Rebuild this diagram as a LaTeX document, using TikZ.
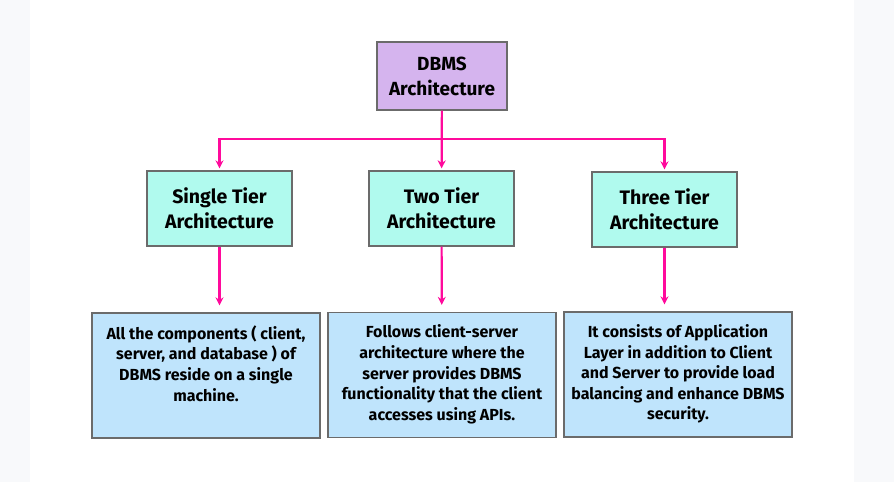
\documentclass[tikz,border=0pt]{standalone}
\usepackage{fontspec}
\setmainfont{Fira Sans}
\usetikzlibrary{arrows.meta}
\definecolor{archpurple}{HTML}{D5B4EE}
\definecolor{tiercyan}{HTML}{B0FAEE}
\definecolor{descblue}{HTML}{BFE4FC}
\definecolor{linkpink}{HTML}{FF0A9C}
\definecolor{boxgray}{HTML}{6B6B6B}
\definecolor{pagegray}{HTML}{F8F9FB}
\newcommand{\desctext}[1]{\parbox[c][112pt][t]{220pt}{\centering\vspace*{6pt}#1}}
\tikzset{
  headbox/.style={draw=boxgray,line width=1.3pt,fill=archpurple,minimum width=130pt,minimum height=68pt,align=center,font=\fontsize{19}{25}\selectfont\bfseries},
  tierbox/.style={draw=boxgray,line width=1.3pt,fill=tiercyan,minimum width=145pt,minimum height=75pt,align=center,font=\fontsize{19.5}{25}\selectfont\bfseries},
  descbox/.style={draw=boxgray,line width=1.3pt,fill=descblue,inner xsep=4pt,inner ysep=6.5pt,font=\fontsize{16}{20.6}\selectfont\bfseries},
  link/.style={draw=linkpink,line width=2.2pt,-{Stealth[length=8pt,width=8pt]}}
}

\begin{document}
\begin{tikzpicture}[x=1pt,y=-1pt]
  \fill[pagegray] (0,0) rectangle (894,482);
  \fill[white] (30,0) rectangle (854,482);
  \node[headbox] (arch) at (442,76) {DBMS\\Architecture};
  \node[tierbox] (single) at (219.5,208.5) {Single Tier\\Architecture};
  \node[tierbox] (two) at (441.5,208.5) {Two Tier\\Architecture};
  \node[tierbox] (three) at (664.5,209.5) {Three Tier\\Architecture};
  \node[descbox] (dsingle) at (206,375.5) {\desctext{All the components ( client,\\ server, and database ) of\\ DBMS reside on a single\\ machine.}};
  \node[descbox] (dtwo) at (442,375) {\desctext{Follows client-server\\ architecture where the\\ server provides DBMS\\ functionality that the client\\ accesses using APIs.}};
  \node[descbox] (dthree) at (678,374.5) {\desctext{It consists of Application\\ Layer in addition to Client\\ and Server to provide load\\ balancing and enhance DBMS\\ security.}};
  \coordinate (split) at (441.5,139);
  \draw[link,shorten >=2pt] (arch) -- (two);
  \draw[link,shorten >=2pt] (split) -| (single);
  \draw[link,shorten >=2pt] (split) -| (three);
  \draw[link,shorten >=7pt] (single) -- (single |- dsingle.north);
  \draw[link,shorten >=7pt] (two) -- (dtwo);
  \draw[link,shorten >=7pt] (three) -- (three |- dthree.north);
\end{tikzpicture}
\end{document}
